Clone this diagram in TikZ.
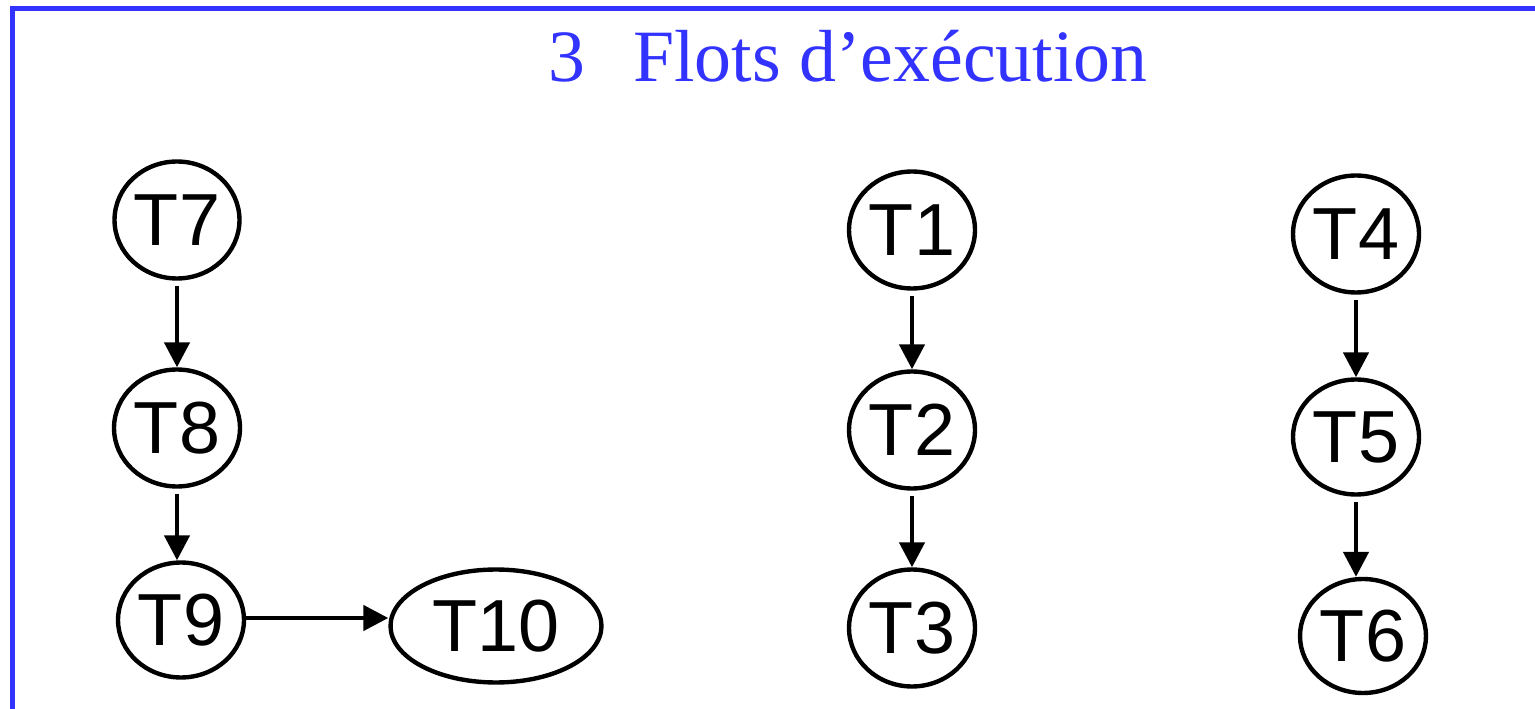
\documentclass[tikz,border=0pt]{standalone}
\usepackage{fontspec}
\setmainfont{Liberation Serif}
\newfontfamily\arial{Liberation Sans}
\usetikzlibrary{shapes.geometric,arrows.meta}
\definecolor{titleblue}{RGB}{51,51,255}
\tikzset{
    task/.style={ellipse, draw, line width=2.5pt, inner sep=0pt,
        minimum width=2.52cm, minimum height=2.34cm,
        font=\arial\fontsize{42}{48}\selectfont},
    flow/.style={-{Triangle[width=0.5cm,length=0.5cm]}, line width=2.6pt}
}
\begin{document}
\begin{tikzpicture}[x=0.02cm, y=-0.02cm]
        \useasboundingbox (0,0) rectangle (1535,709);
        % Frame and title
        \draw[titleblue, line width=2.85pt] (12.5,709) -- (12.5,8.5) -- (1535,8.5);
        \node(title) [anchor=base, text=titleblue, font=\fontsize{42}{48}\selectfont]
            at (848,82) {3\hspace{0.65em}Flots d'exécution};

        % Nodes
        \node(t7) [task, minimum width=2.5cm] at (177,220) {T7};
        \node(t8) [task] at (177,428) {T8};
        \node(t9) [task, minimum height=2.3cm] at (181,620) {T9};
        \node(t10) [task, minimum width=4.22cm, minimum height=2.26cm] at (496,626) {T10};
        \node(t1) [task] at (912,230) {T1};
        \node(t2) [task] at (912,430) {T2};
        \node(t3) [task] at (912,628) {T3};
        \node(t4) [task] at (1356,234) {T4};
        \node(t5) [task, minimum height=2.3cm] at (1356,437) {T5};
        \node(t6) [task, minimum height=2.28cm] at (1363,636) {T6};

        % Edges
        \draw[flow, shorten <=0.1cm] (t7) -- (t8);
        \draw[flow, shorten <=0.1cm] (t8) -- (t8 |- t9.north);
        \draw[flow] (t9.east |- 0,618) -- (t10.west |- 0,618);
        \draw[flow, shorten <=0.1cm] (t1) -- (t2);
        \draw[flow, shorten <=0.1cm] (t2) -- (t3);
        \draw[flow, shorten <=0.1cm] (t4) -- (t5);
        \draw[flow, shorten <=0.1cm] (t5) -- (t5 |- t6.north);
    \end{tikzpicture}
\end{document}
